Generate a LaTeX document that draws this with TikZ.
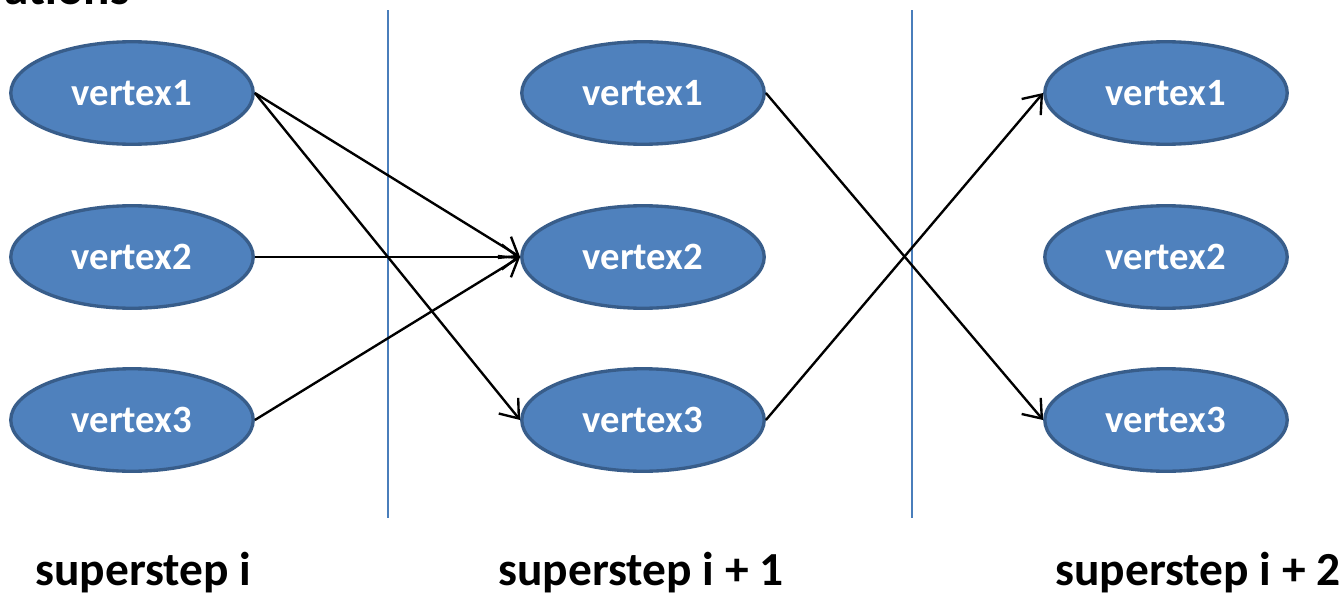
\documentclass[tikz,border=0pt]{standalone}
\usepackage{fontspec}
\setmainfont{Carlito}
\usetikzlibrary{arrows.meta,shapes.geometric}
\definecolor{vfill}{HTML}{4F81BD}
\definecolor{vdraw}{HTML}{385D8A}
\definecolor{vline}{HTML}{4A7EBB}
\begin{document}
\begin{tikzpicture}[x=0.02cm,y=-0.02cm,
  vtx/.style={ellipse, fill=vfill, draw=vdraw, line width=1.9pt,
    minimum width=4.85cm, minimum height=2.05cm, inner sep=0pt,
    text=white, font=\bfseries\fontsize{22}{26}\selectfont},
  msg/.style={line width=1.35pt, -{Straight Barb[length=3.3mm,width=5mm,line width=1.35pt]}},
  sep/.style={draw=vline, line width=0.9pt},
  lbl/.style={anchor=base west, inner sep=0pt, font=\bfseries\fontsize{27}{32}\selectfont}]
\useasboundingbox (0,0) rectangle (1342,595);
\clip (0,0) rectangle (1342,595);
\node[anchor=base east, inner sep=0pt, font=\bfseries\fontsize{28}{32}\selectfont] (title) at (130,5) {ations};
\coordinate (s1t) at (388,10); \coordinate (s1b) at (388,518);
\coordinate (s2t) at (912,10); \coordinate (s2b) at (912,518);
\draw[sep] (s1t) -- (s1b);
\draw[sep] (s2t) -- (s2b);
\node[vtx] (L1) at (132,93) {vertex1};
\node[vtx] (L2) at (132,257) {vertex2};
\node[vtx] (L3) at (132,420) {vertex3};
\node[vtx] (M1) at (643,93) {vertex1};
\node[vtx] (M2) at (643,257) {vertex2};
\node[vtx] (M3) at (643,420) {vertex3};
\node[vtx] (R1) at (1166,93) {vertex1};
\node[vtx] (R2) at (1166,257) {vertex2};
\node[vtx] (R3) at (1166,420) {vertex3};
\draw[msg] (L1.east) -- (M2.west);
\draw[msg] (L1.east) -- (M3.west);
\draw[msg] (L2.east) -- (M2.west);
\draw[msg] (L3.east) -- (M2.west);
\draw[msg] (M1.east) -- (R3.west);
\draw[msg] (M3.east) -- (R1.west);
\node[lbl] (t1) at (35,585) {superstep i};
\node[lbl] (t2) at (498,585) {superstep i + 1};
\node[lbl] (t3) at (1055,585) {superstep i + 2};
\end{tikzpicture}
\end{document}
